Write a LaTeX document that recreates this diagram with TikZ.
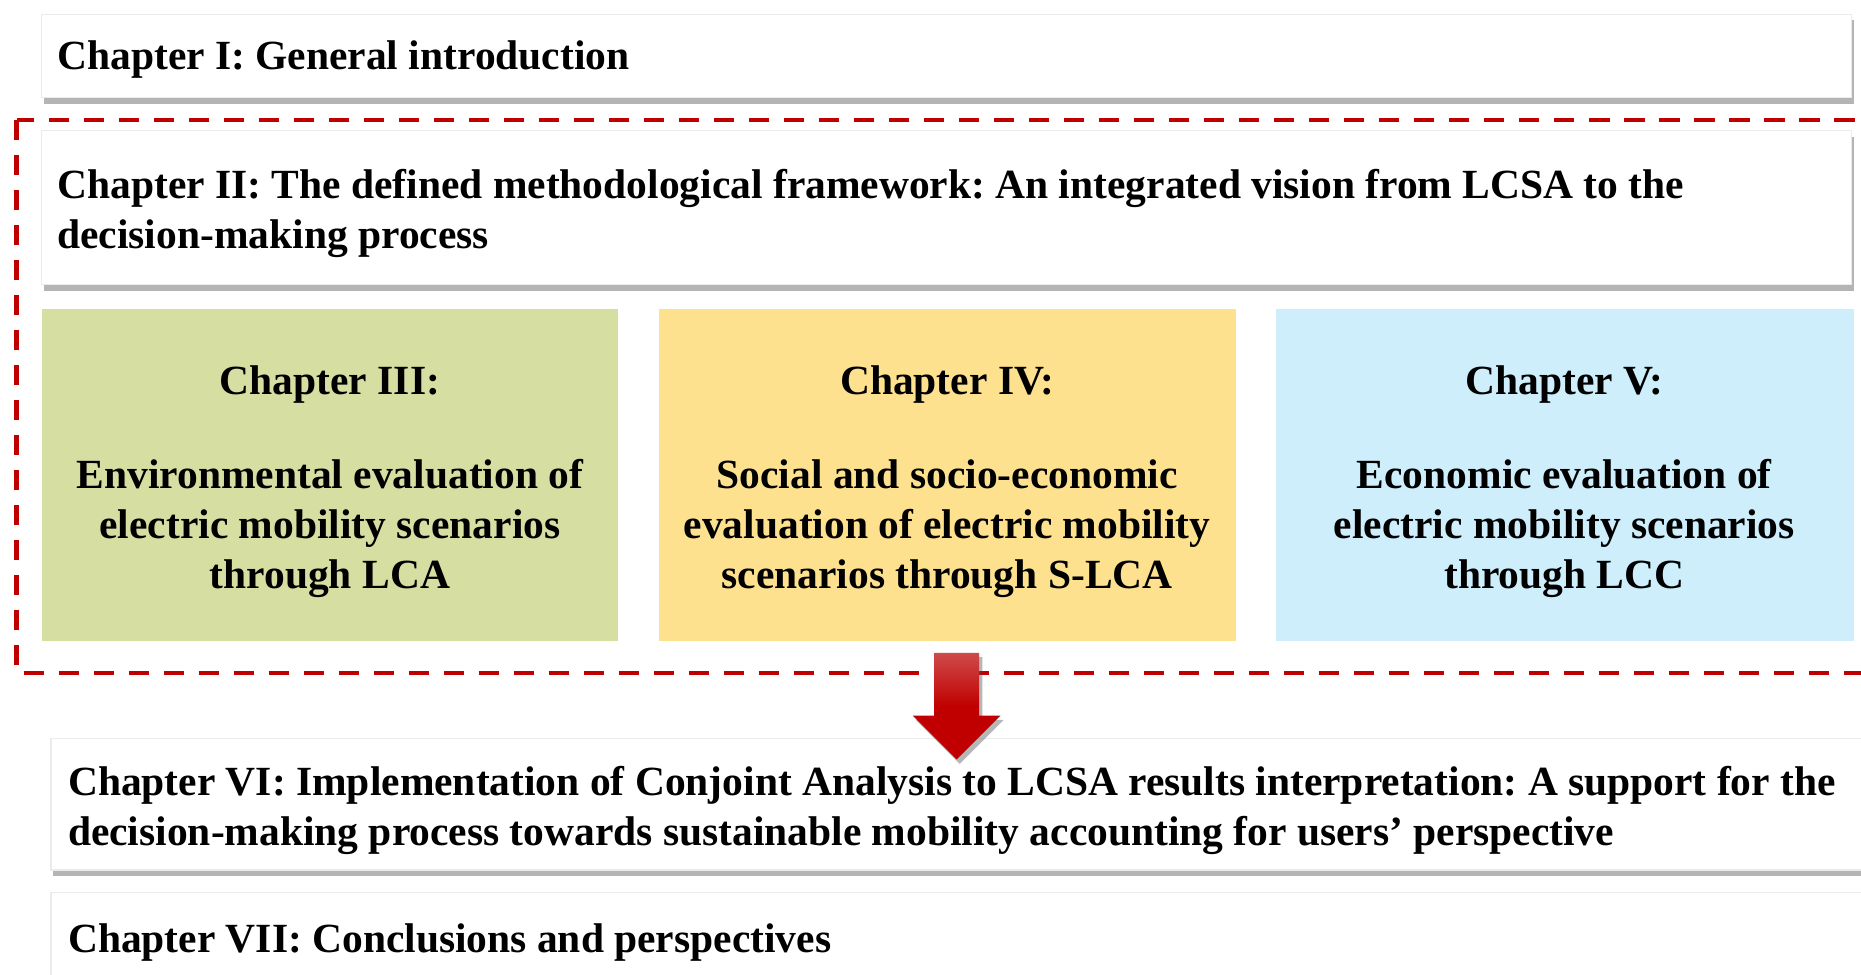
\documentclass[tikz,border=0pt]{standalone}
\usepackage{fontspec}
\setmainfont{Liberation Serif}
\usetikzlibrary{shadows}
\frenchspacing

\definecolor{lcagreen}{HTML}{D7DEA1}
\definecolor{slcayellow}{HTML}{FDE18F}
\definecolor{lccblue}{HTML}{CDEEFA}
\definecolor{framered}{HTML}{C00000}
\definecolor{arrowtop}{HTML}{CF4B4B}

\tikzset{
  chapbox/.style={fill=white, draw=black!8, line width=0.6pt,
    drop shadow={shadow xshift=1pt, shadow yshift=-3pt, opacity=0.45, fill=black!65}},
  chaptext/.style={font=\fontsize{19.9}{24}\selectfont\bfseries, inner sep=0pt,
    align=left, anchor=west},
  evaltext/.style={font=\fontsize{19.9}{24}\selectfont\bfseries, inner sep=0pt,
    align=center}
}

\begin{document}
\begin{tikzpicture}[x=0.02cm, y=-0.02cm]
  \clip (0,0) rectangle (1568,821);
  \fill[white] (0,0) rectangle (1568,821);

  % Introduction
  \draw[chapbox] (35,12) rectangle (1560,82);
  \node[chaptext] (ch1) at (48,50) {Chapter I: General introduction};

  % LCSA framework
  \draw[framered, line width=2.2pt, dash pattern=on 0.34cm off 0.25cm]
    (14,101) rectangle (1620,567);
  \draw[chapbox] (35,110) rectangle (1560,240);
  \node[chaptext] (ch2) at (48,180)
    {Chapter II: The defined methodological framework: An integrated vision from LCSA to the\\
     decision-making process};

  % Three evaluations
  \fill[lcagreen] (35,260) rectangle (521,540);
  \node[evaltext] (ch3) at (278,406)
    {Chapter III:\\[21pt]Environmental evaluation of\\electric mobility scenarios\\through LCA};
  \fill[slcayellow] (555,260) rectangle (1041,540);
  \node[evaltext] (ch4) at (798,406)
    {Chapter IV:\\[21pt]Social and socio-economic\\evaluation of electric mobility\\scenarios through S-LCA};
  \fill[lccblue] (1075,260) rectangle (1562,540);
  \node[evaltext] (ch5) at (1318,406)
    {Chapter V:\\[21pt]Economic evaluation of\\electric mobility scenarios\\through LCC};

  % Decision making and conclusions
  \draw[chapbox] (43,622) rectangle (1600,733);
  \node[chaptext] (ch6) at (57,683)
    {Chapter VI: Implementation of Conjoint Analysis to LCSA results interpretation: A support for the\\
     decision-making process towards sustainable mobility accounting for users' perspective};
  \draw[chapbox] (43,752) rectangle (1600,860);
  \node[chaptext] (ch7) at (57,794) {Chapter VII: Conclusions and perspectives};

  % Block arrow
  \shade[top color=arrowtop, bottom color=framered, middle color=framered,
    drop shadow={shadow xshift=1.5pt, shadow yshift=-2pt, opacity=0.4, fill=black!70}]
    (787,550) -- (825,550) -- (825,603) -- (843,603) -- (806,640)
    -- (769,603) -- (787,603) -- cycle;
\end{tikzpicture}
\end{document}
